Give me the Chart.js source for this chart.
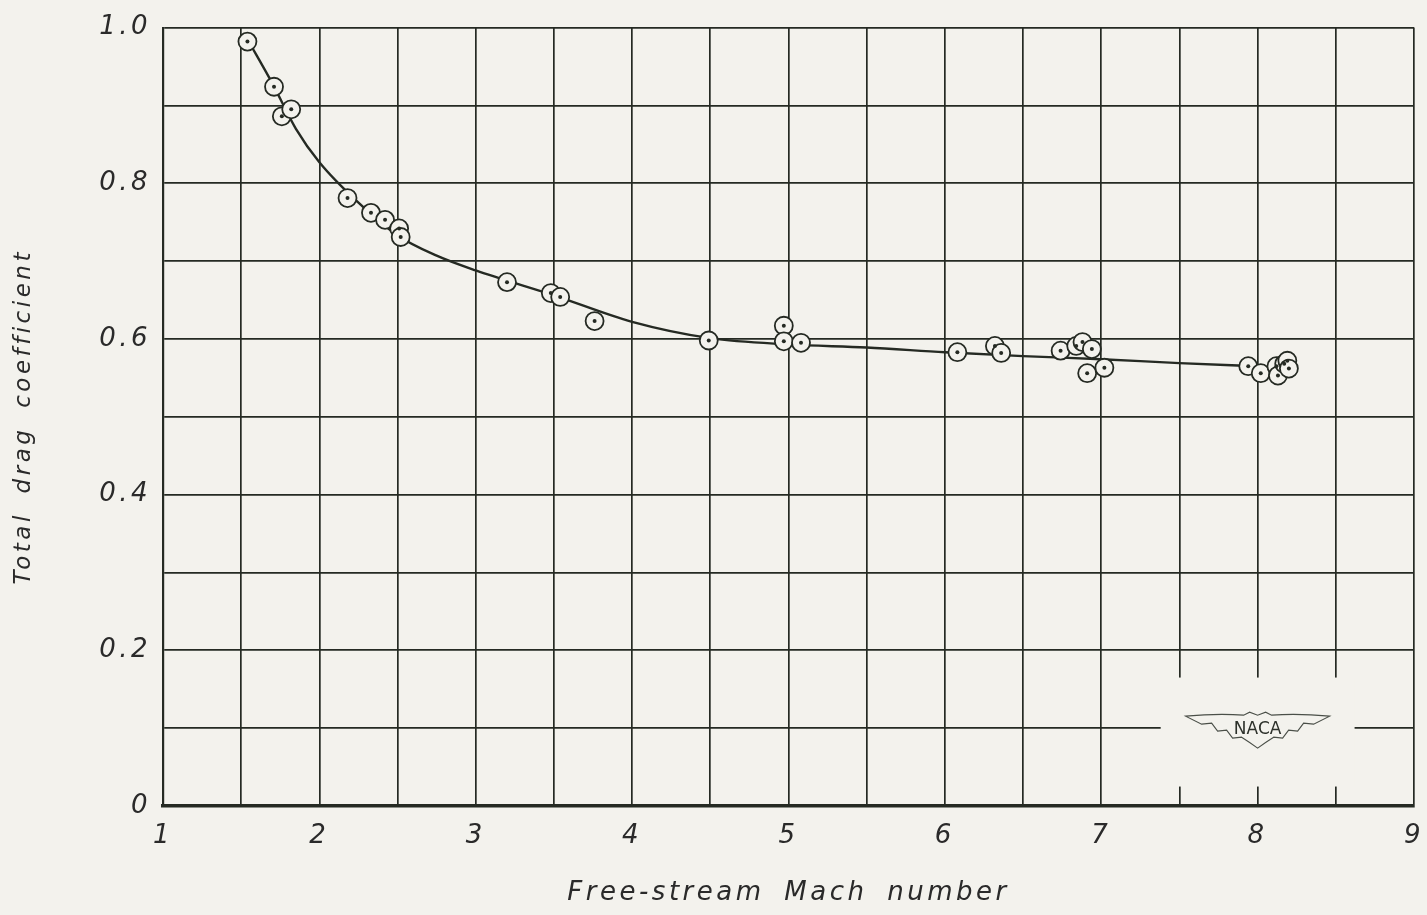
<!DOCTYPE html>
<html>
<head>
<meta charset="utf-8">
<script src="https://cdn.jsdelivr.net/npm/chart.js@4.4.1/dist/chart.umd.min.js"></script>
<style>
	html, body { margin: 0; padding: 0; background: #f3f2ed; }
	canvas { display: block; }
</style>
</head>
<body>
<canvas id="dragChart" width="1427" height="915"></canvas>
<script>
// test points (Mach, Cd)
var machPoints = [1.54, 1.71, 1.76, 1.82, 2.18, 2.33, 2.42, 2.51, 2.52, 3.20, 3.48, 3.54, 3.76, 4.49, 4.97, 4.97, 5.08,
	6.08, 6.32, 6.36, 6.74, 6.84, 6.88, 6.94, 6.91, 7.02, 7.94, 8.02, 8.12, 8.13, 8.17, 8.19, 8.20];
var cdPoints = [0.982, 0.924, 0.886, 0.895, 0.781, 0.762, 0.753, 0.742, 0.731, 0.673, 0.659, 0.654, 0.623, 0.598, 0.617, 0.597, 0.595,
	0.583, 0.591, 0.582, 0.585, 0.591, 0.596, 0.587, 0.556, 0.563, 0.565, 0.556, 0.565, 0.553, 0.568, 0.572, 0.562];

// faired curve
var curveMach = [1.54, 1.70, 1.85, 2.00, 2.25, 2.50, 2.75, 3.00, 3.50, 4.00, 4.50, 5.00, 5.50, 6.00, 6.50, 7.00, 7.50, 8.00];
var curveCd = [0.985, 0.928, 0.870, 0.827, 0.775, 0.733, 0.707, 0.688, 0.656, 0.622, 0.601, 0.593, 0.589, 0.583, 0.578, 0.574, 0.569, 0.565];

var xLabels = ["1", "2", "3", "4", "5", "6", "7", "8", "9"];
var yLabels = ["0", "0.2", "0.4", "0.6", "0.8", "1.0"];

var paper = "#f3f2ed";
var ink = "#252a23";
var font = "'DejaVu Sans', sans-serif";

function pairs(xs, ys) {
	var out = [];
	for (var i = 0; i < xs.length; ++i) out.push({x: xs[i], y: ys[i]});
	return out;
}

// letter spacing like the hand lettering
var lettering = {
	id: "lettering",
	beforeDraw: function(chart) {
		chart.ctx.letterSpacing = "3.5px";
		chart.ctx.wordSpacing = "8px";
	}
};

// white patch with the NACA wings in the lower right corner
var nacaLogo = {
	id: "nacaLogo",
	beforeDatasetsDraw: function(chart) {
		var ctx = chart.ctx;
		var xs = chart.scales.x, ys = chart.scales.y;
		var l = xs.getPixelForValue(7.38), r = xs.getPixelForValue(8.62);
		var t = ys.getPixelForValue(0.165), b = ys.getPixelForValue(0.025);
		ctx.save();
		ctx.fillStyle = paper;
		ctx.fillRect(l, t, r - l, b - t);
		var cx = xs.getPixelForValue(8.0), cy = ys.getPixelForValue(0.1) + 2;
		ctx.strokeStyle = "#4a4f48";
		ctx.lineWidth = 1.1;
		ctx.beginPath();
		ctx.moveTo(cx - 72, cy - 14);
		ctx.quadraticCurveTo(cx - 40, cy - 17, cx - 14, cy - 15);
		ctx.lineTo(cx - 8, cy - 18);
		ctx.lineTo(cx, cy - 15);
		ctx.lineTo(cx + 8, cy - 18);
		ctx.lineTo(cx + 14, cy - 15);
		ctx.quadraticCurveTo(cx + 40, cy - 17, cx + 72, cy - 14);
		ctx.lineTo(cx + 56, cy - 6);
		ctx.lineTo(cx + 46, cy - 7);
		ctx.lineTo(cx + 40, cy + 1);
		ctx.lineTo(cx + 31, cy);
		ctx.lineTo(cx + 25, cy + 8);
		ctx.lineTo(cx + 16, cy + 7);
		ctx.quadraticCurveTo(cx + 8, cy + 12, cx, cy + 18);
		ctx.quadraticCurveTo(cx - 8, cy + 12, cx - 16, cy + 7);
		ctx.lineTo(cx - 25, cy + 8);
		ctx.lineTo(cx - 31, cy);
		ctx.lineTo(cx - 40, cy + 1);
		ctx.lineTo(cx - 46, cy - 7);
		ctx.lineTo(cx - 56, cy - 6);
		ctx.closePath();
		ctx.stroke();
		ctx.letterSpacing = "0px";
		ctx.fillStyle = "#2c302a";
		ctx.font = "17px " + font;
		ctx.textAlign = "center";
		ctx.textBaseline = "middle";
		ctx.fillText("NACA", cx, cy - 1);
		ctx.restore();
	}
};

var data = {
	datasets: [{
		type: "line",
		label: "Curve",
		order: 3,
		data: pairs(curveMach, curveCd),
		borderColor: ink,
		borderWidth: 2.4,
		pointRadius: 0,
		fill: false,
		cubicInterpolationMode: "monotone"
	}, {
		type: "scatter",
		label: "Test points",
		order: 2,
		data: pairs(machPoints, cdPoints),
		pointRadius: 9,
		pointBorderWidth: 1.8,
		pointBorderColor: ink,
		pointBackgroundColor: paper
	}, {
		type: "scatter",
		label: "Centres",
		order: 1,
		data: pairs(machPoints, cdPoints),
		pointRadius: 2,
		pointBorderWidth: 0,
		pointBackgroundColor: ink
	}]
};

var config = {
	type: "scatter",
	data: data,
	plugins: [lettering, nacaLogo],
	options: {
		responsive: false,
		animation: false,
		layout: {padding: {left: 0, top: 24, right: 0, bottom: 0}},
		plugins: {
			legend: {display: false},
			tooltip: {enabled: false}
		},
		scales: {
			x: {
				type: "linear",
				min: 1,
				max: 9,
				afterFit: function(scale) {
					scale.height = 109;
					scale.paddingRight = 13;
				},
				ticks: {
					stepSize: 0.5,
					autoSkip: false,
					maxRotation: 0,
					padding: 15,
					color: "#2a2a2a",
					font: {family: font, size: 26, style: "italic"},
					callback: function(v) {
						return Number.isInteger(v) ? xLabels[v - 1] : "";
					}
				},
				grid: {color: ink, lineWidth: 1.7, drawTicks: false},
				border: {color: ink, width: 3.5},
				title: {
					display: true,
					text: "Free-stream Mach number",
					color: "#2a2a2a",
					font: {family: font, size: 26, style: "italic"},
					padding: {top: 18, bottom: 6}
				}
			},
			y: {
				type: "linear",
				min: 0,
				max: 1,
				afterFit: function(scale) { scale.width = 163; },
				ticks: {
					stepSize: 0.1,
					autoSkip: false,
					padding: 12,
					color: "#2a2a2a",
					font: {family: font, size: 26, style: "italic"},
					callback: function(v) {
						var k = Math.round(v * 10);
						return k % 2 == 0 ? yLabels[k / 2] : "";
					}
				},
				grid: {color: ink, lineWidth: 1.7, drawTicks: false},
				border: {color: ink, width: 2.2},
				title: {
					display: true,
					text: "Total drag coefficient",
					color: "#2a2a2a",
					font: {family: font, size: 23, style: "italic"},
					padding: {top: 10, bottom: 0}
				}
			}
		}
	}
};

new Chart(document.getElementById("dragChart"), config);
</script>
</body>
</html>
